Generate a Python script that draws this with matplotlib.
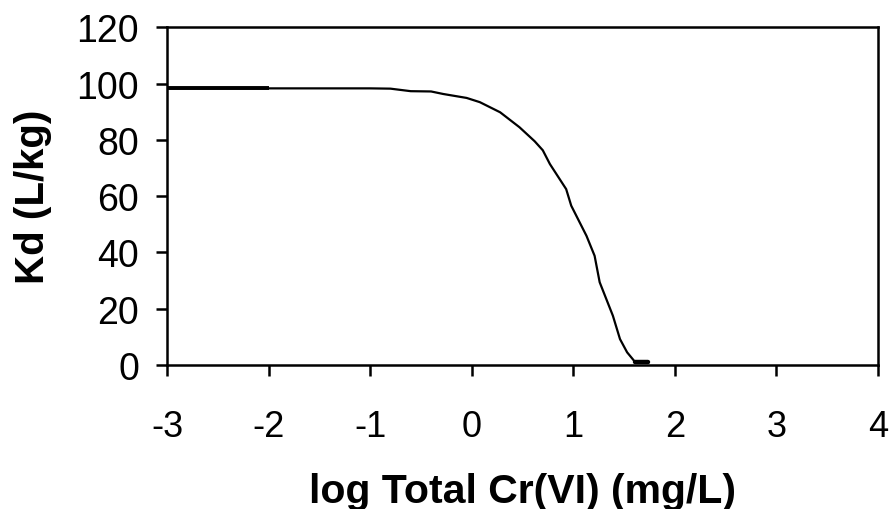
import matplotlib
matplotlib.use("Agg")
import matplotlib.pyplot as plt

# Kd vs log total Cr(VI)
log_cr = [-3.0, -2.0, -1.0, -0.8, -0.6, -0.4, -0.28, -0.05, 0.08, 0.28, 0.47, 0.62, 0.70, 0.77,
          0.93, 0.98, 1.13, 1.21, 1.26, 1.39, 1.46, 1.53, 1.61, 1.74]
kd = [98.3, 98.3, 98.3, 98.2, 97.3, 97.2, 96.3, 94.9, 93.4, 89.8, 84.5, 79.5, 76.3, 71.4,
      62.5, 56.6, 45.9, 38.8, 29.4, 17.5, 9.2, 4.5, 1.0, 1.0]

xticks = [-3, -2, -1, 0, 1, 2, 3, 4]
yticks = [0, 20, 40, 60, 80, 100, 120]

plt.rcParams["font.family"] = ["Liberation Sans", "DejaVu Sans"]

fig = plt.figure(figsize=(8.91, 5.10), dpi=100)
ax = fig.add_axes([0.1874, 0.2824, 0.798, 0.6621])

ax.plot(log_cr, kd, color="black", lw=1.6, solid_joinstyle="round")
# thicker bits at both ends, as in the source
ax.plot(log_cr[:2], kd[:2], color="black", lw=2.8, solid_capstyle="butt")
ax.plot(log_cr[-2:], kd[-2:], color="black", lw=3.2, solid_capstyle="round")

ax.set_xlim(-3, 4)
ax.set_ylim(0, 120)
ax.set_xticks(xticks)
ax.set_yticks(yticks)
ax.set_xticklabels([str(t) for t in xticks], fontsize=26)
ax.set_yticklabels([str(t) for t in yticks], fontsize=27)
ax.tick_params(direction="out", length=8, width=1.8, color="black")
ax.tick_params(axis="x", pad=24)
ax.tick_params(axis="y", pad=12)
for s in ax.spines.values():
    s.set_linewidth(1.8)

ax.set_xlabel("log Total Cr(VI) (mg/L)", fontsize=29.5, fontweight="bold", labelpad=20)
ax.set_ylabel("Kd (L/kg)", fontsize=29, fontweight="bold", labelpad=18)

fig.savefig("out.png", dpi=100)
